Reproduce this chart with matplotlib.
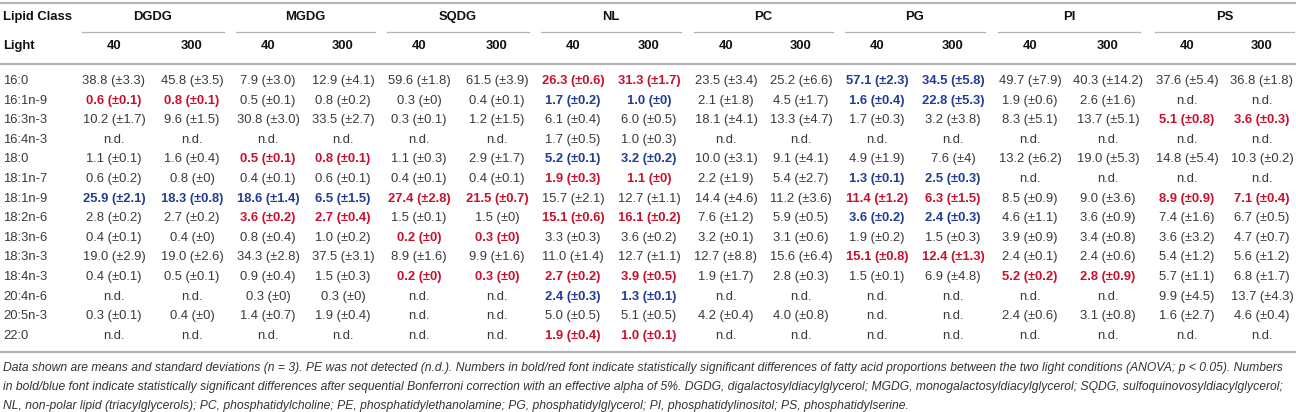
import matplotlib.pyplot as plt

plt.rcParams['font.family'] = ['Liberation Sans', 'DejaVu Sans']

# table content
lipid_classes = ["DGDG", "MGDG", "SQDG", "NL", "PC", "PG", "PI", "PS"]
light_levels = ["40", "300"]
fatty_acids = ["16:0", "16:1n-9", "16:3n-3", "16:4n-3", "18:0", "18:1n-7", "18:1n-9",
               "18:2n-6", "18:3n-6", "18:3n-3", "18:4n-3", "20:4n-6", "20:5n-3", "22:0"]

dgdg_40 = ["38.8 (±3.3)", "0.6 (±0.1)", "10.2 (±1.7)", "n.d.", "1.1 (±0.1)", "0.6 (±0.2)", "25.9 (±2.1)",
           "2.8 (±0.2)", "0.4 (±0.1)", "19.0 (±2.9)", "0.4 (±0.1)", "n.d.", "0.3 (±0.1)", "n.d."]
dgdg_300 = ["45.8 (±3.5)", "0.8 (±0.1)", "9.6 (±1.5)", "n.d.", "1.6 (±0.4)", "0.8 (±0)", "18.3 (±0.8)",
            "2.7 (±0.2)", "0.4 (±0)", "19.0 (±2.6)", "0.5 (±0.1)", "n.d.", "0.4 (±0)", "n.d."]
mgdg_40 = ["7.9 (±3.0)", "0.5 (±0.1)", "30.8 (±3.0)", "n.d.", "0.5 (±0.1)", "0.4 (±0.1)", "18.6 (±1.4)",
           "3.6 (±0.2)", "0.8 (±0.4)", "34.3 (±2.8)", "0.9 (±0.4)", "0.3 (±0)", "1.4 (±0.7)", "n.d."]
mgdg_300 = ["12.9 (±4.1)", "0.8 (±0.2)", "33.5 (±2.7)", "n.d.", "0.8 (±0.1)", "0.6 (±0.1)", "6.5 (±1.5)",
            "2.7 (±0.4)", "1.0 (±0.2)", "37.5 (±3.1)", "1.5 (±0.3)", "0.3 (±0)", "1.9 (±0.4)", "n.d."]
sqdg_40 = ["59.6 (±1.8)", "0.3 (±0)", "0.3 (±0.1)", "n.d.", "1.1 (±0.3)", "0.4 (±0.1)", "27.4 (±2.8)",
           "1.5 (±0.1)", "0.2 (±0)", "8.9 (±1.6)", "0.2 (±0)", "n.d.", "n.d.", "n.d."]
sqdg_300 = ["61.5 (±3.9)", "0.4 (±0.1)", "1.2 (±1.5)", "n.d.", "2.9 (±1.7)", "0.4 (±0.1)", "21.5 (±0.7)",
            "1.5 (±0)", "0.3 (±0)", "9.9 (±1.6)", "0.3 (±0)", "n.d.", "n.d.", "n.d."]
nl_40 = ["26.3 (±0.6)", "1.7 (±0.2)", "6.1 (±0.4)", "1.7 (±0.5)", "5.2 (±0.1)", "1.9 (±0.3)", "15.7 (±2.1)",
         "15.1 (±0.6)", "3.3 (±0.3)", "11.0 (±1.4)", "2.7 (±0.2)", "2.4 (±0.3)", "5.0 (±0.5)", "1.9 (±0.4)"]
nl_300 = ["31.3 (±1.7)", "1.0 (±0)", "6.0 (±0.5)", "1.0 (±0.3)", "3.2 (±0.2)", "1.1 (±0)", "12.7 (±1.1)",
          "16.1 (±0.2)", "3.6 (±0.2)", "12.7 (±1.1)", "3.9 (±0.5)", "1.3 (±0.1)", "5.1 (±0.5)", "1.0 (±0.1)"]
pc_40 = ["23.5 (±3.4)", "2.1 (±1.8)", "18.1 (±4.1)", "n.d.", "10.0 (±3.1)", "2.2 (±1.9)", "14.4 (±4.6)",
         "7.6 (±1.2)", "3.2 (±0.1)", "12.7 (±8.8)", "1.9 (±1.7)", "n.d.", "4.2 (±0.4)", "n.d."]
pc_300 = ["25.2 (±6.6)", "4.5 (±1.7)", "13.3 (±4.7)", "n.d.", "9.1 (±4.1)", "5.4 (±2.7)", "11.2 (±3.6)",
          "5.9 (±0.5)", "3.1 (±0.6)", "15.6 (±6.4)", "2.8 (±0.3)", "n.d.", "4.0 (±0.8)", "n.d."]
pg_40 = ["57.1 (±2.3)", "1.6 (±0.4)", "1.7 (±0.3)", "n.d.", "4.9 (±1.9)", "1.3 (±0.1)", "11.4 (±1.2)",
         "3.6 (±0.2)", "1.9 (±0.2)", "15.1 (±0.8)", "1.5 (±0.1)", "n.d.", "n.d.", "n.d."]
pg_300 = ["34.5 (±5.8)", "22.8 (±5.3)", "3.2 (±3.8)", "n.d.", "7.6 (±4)", "2.5 (±0.3)", "6.3 (±1.5)",
          "2.4 (±0.3)", "1.5 (±0.3)", "12.4 (±1.3)", "6.9 (±4.8)", "n.d.", "n.d.", "n.d."]
pi_40 = ["49.7 (±7.9)", "1.9 (±0.6)", "8.3 (±5.1)", "n.d.", "13.2 (±6.2)", "n.d.", "8.5 (±0.9)",
         "4.6 (±1.1)", "3.9 (±0.9)", "2.4 (±0.1)", "5.2 (±0.2)", "n.d.", "2.4 (±0.6)", "n.d."]
pi_300 = ["40.3 (±14.2)", "2.6 (±1.6)", "13.7 (±5.1)", "n.d.", "19.0 (±5.3)", "n.d.", "9.0 (±3.6)",
          "3.6 (±0.9)", "3.4 (±0.8)", "2.4 (±0.6)", "2.8 (±0.9)", "n.d.", "3.1 (±0.8)", "n.d."]
ps_40 = ["37.6 (±5.4)", "n.d.", "5.1 (±0.8)", "n.d.", "14.8 (±5.4)", "n.d.", "8.9 (±0.9)",
         "7.4 (±1.6)", "3.6 (±3.2)", "5.4 (±1.2)", "5.7 (±1.1)", "9.9 (±4.5)", "1.6 (±2.7)", "n.d."]
ps_300 = ["36.8 (±1.8)", "n.d.", "3.6 (±0.3)", "n.d.", "10.3 (±0.2)", "n.d.", "7.1 (±0.4)",
          "6.7 (±0.5)", "4.7 (±0.7)", "5.6 (±1.2)", "6.8 (±1.7)", "13.7 (±4.3)", "4.6 (±0.4)", "n.d."]

# significance per lipid class (same for both light levels): r = ANOVA, b = Bonferroni
sig_dgdg = ["", "r", "", "", "", "", "b", "", "", "", "", "", "", ""]
sig_mgdg = ["", "", "", "", "r", "", "b", "r", "", "", "", "", "", ""]
sig_sqdg = ["", "", "", "", "", "", "r", "", "r", "", "r", "", "", ""]
sig_nl = ["r", "b", "", "", "b", "r", "", "r", "", "", "r", "b", "", "r"]
sig_pc = [""] * 14
sig_pg = ["b", "b", "", "", "", "b", "r", "b", "", "r", "", "", "", ""]
sig_pi = ["", "", "", "", "", "", "", "", "", "", "r", "", "", ""]
sig_ps = ["", "", "r", "", "", "", "r", "", "", "", "", "", "", ""]

columns = [dgdg_40, dgdg_300, mgdg_40, mgdg_300, sqdg_40, sqdg_300, nl_40, nl_300,
           pc_40, pc_300, pg_40, pg_300, pi_40, pi_300, ps_40, ps_300]
sigs = [sig_dgdg, sig_mgdg, sig_sqdg, sig_nl, sig_pc, sig_pg, sig_pi, sig_ps]

footnote = [
    "Data shown are means and standard deviations (n = 3). PE was not detected (n.d.). Numbers in bold/red font indicate "
    "statistically significant differences of fatty acid proportions between the two light conditions (ANOVA; p < 0.05). Numbers",
    "in bold/blue font indicate statistically significant differences after sequential Bonferroni correction with an effective alpha "
    "of 5%. DGDG, digalactosyldiacylglycerol; MGDG, monogalactosyldiacylglycerol; SQDG, sulfoquinovosyldiacylglycerol;",
    "NL, non-polar lipid (triacylglycerols); PC, phosphatidylcholine; PE, phosphatidylethanolamine; PG, phosphatidylglycerol; "
    "PI, phosphatidylinositol; PS, phosphatidylserine.",
]

# layout (pixel coords)
W, H = 1296, 412
col_x = [114, 192, 268, 343, 419, 497, 573, 649, 726, 801, 877, 953, 1030, 1108, 1187, 1262]
y_first, row_h = 81, 19.6
text_gray = "#3a3a3a"
red = "#c8102e"
blue = "#1f3c96"
line_gray = "#b4b4b4"
fs = 9.4

fig = plt.figure(figsize=(W / 100, H / 100), dpi=100)
ax = fig.add_axes([0, 0, 1, 1])
ax.set_xlim(0, W)
ax.set_ylim(H, 0)
ax.axis("off")

# rules
ax.plot([0, W], [3, 3], color=line_gray, lw=1.6)
ax.plot([0, W], [64, 64], color=line_gray, lw=1.6)
ax.plot([0, W], [352, 352], color=line_gray, lw=1.6)

# header
ax.text(3, 17, "Lipid Class", fontsize=fs, fontweight="bold", color="#111111", va="center")
ax.text(3, 46, "Light", fontsize=fs, fontweight="bold", color="#111111", va="center")
for g, name in enumerate(lipid_classes):
    x0, x1 = col_x[2 * g], col_x[2 * g + 1]
    ax.text((x0 + x1) / 2, 17, name, fontsize=fs, fontweight="bold", color="#111111",
            ha="center", va="center")
    ax.plot([x0 - 32, x1 + 32], [32, 32], color=line_gray, lw=0.9)
    for k, lvl in enumerate(light_levels):
        ax.text(col_x[2 * g + k], 46, lvl, fontsize=fs, fontweight="bold", color="#111111",
                ha="center", va="center")

# body
for i, fa in enumerate(fatty_acids):
    y = y_first + i * row_h
    ax.text(3, y, fa, fontsize=fs, color=text_gray, va="center")
    for c, col in enumerate(columns):
        s = sigs[c // 2][i]
        color = red if s == "r" else blue if s == "b" else text_gray
        ax.text(col_x[c], y, col[i], fontsize=fs, color=color, ha="center", va="center",
                fontweight="bold" if s else "normal")

# footnote
for j, line in enumerate(footnote):
    ax.text(3, 368 + j * 19, line, fontsize=8.75, style="italic", color="#333333", va="center")

fig.savefig("out.png", dpi=100)
